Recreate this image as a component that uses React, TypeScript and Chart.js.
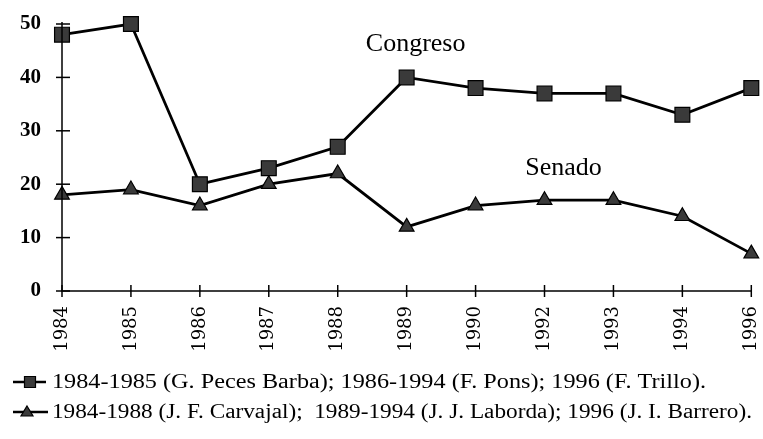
import React, { useEffect, useRef } from "react";
import { Chart, registerables } from "chart.js";

Chart.register(...registerables);

const years = ["1984", "1985", "1986", "1987", "1988", "1989", "1990", "1992", "1993", "1994", "1996"];
const congreso = [48, 50, 20, 23, 27, 40, 38, 37, 37, 33, 38];
const senado = [18, 19, 16, 20, 22, 12, 16, 17, 17, 14, 7];
const yTicks = [0, 10, 20, 30, 40, 50];
const seriesNames = ["Congreso", "Senado"];
const legendTexts = [
  "1984-1985 (G. Peces Barba); 1986-1994 (F. Pons); 1996 (F. Trillo).",
  "1984-1988 (J. F. Carvajal);  1989-1994 (J. J. Laborda); 1996 (J. I. Barrero).",
];

const SERIF = '"Liberation Serif", "Times New Roman", serif';

const decorPlugin = {
  id: "decor",
  afterDraw(chart: any) {
    const ctx = chart.ctx as CanvasRenderingContext2D;
    const xs = chart.scales.x;
    const ys = chart.scales.y;
    const ax = chart.chartArea.left;
    const ay = chart.chartArea.bottom;
    ctx.save();
    ctx.strokeStyle = "#000";
    ctx.lineWidth = 1.5;
    // axis lines
    ctx.beginPath();
    ctx.moveTo(ax, ys.getPixelForValue(50) - 2);
    ctx.lineTo(ax, ay);
    ctx.lineTo(xs.getPixelForValue(years.length - 1), ay);
    ctx.stroke();
    // y tick marks crossing
    yTicks.forEach((v) => {
      const y = ys.getPixelForValue(v);
      ctx.beginPath();
      ctx.moveTo(ax - 6, y);
      ctx.lineTo(ax + 8, y);
      ctx.stroke();
    });
    // x tick marks crossing
    years.forEach((_, i) => {
      const x = xs.getPixelForValue(i);
      ctx.beginPath();
      ctx.moveTo(x, ay - 6);
      ctx.lineTo(x, ay + 6);
      ctx.stroke();
    });
    // series annotations
    ctx.fillStyle = "#000";
    ctx.font = `26px ${SERIF}`;
    ctx.textAlign = "center";
    ctx.textBaseline = "alphabetic";
    ctx.fillText(seriesNames[0], xs.getPixelForValue(5) + 9, ys.getPixelForValue(45));
    ctx.fillText(seriesNames[1], xs.getPixelForValue(7) + 19, ys.getPixelForValue(21.7));

    // legend
    const rows = [
      { y: 382, style: "rect", text: legendTexts[0], x1: 13, x2: 46, mx: 30, target: 654 },
      { y: 412, style: "triangle", text: legendTexts[1], x1: 13, x2: 48, mx: 27, target: 700 },
    ];
    rows.forEach((r) => {
      ctx.strokeStyle = "#000";
      ctx.lineWidth = 2.5;
      ctx.beginPath();
      ctx.moveTo(r.x1, r.y);
      ctx.lineTo(r.x2, r.y);
      ctx.stroke();
      ctx.fillStyle = "#3a3a3a";
      ctx.lineWidth = 1.2;
      if (r.style === "rect") {
        ctx.beginPath();
        ctx.rect(r.mx - 5.5, r.y - 5.5, 11, 11);
        ctx.fill();
        ctx.stroke();
      } else {
        ctx.beginPath();
        ctx.moveTo(r.mx, r.y - 6);
        ctx.lineTo(r.mx + 6, r.y + 4);
        ctx.lineTo(r.mx - 6, r.y + 4);
        ctx.closePath();
        ctx.fill();
        ctx.stroke();
      }
      ctx.fillStyle = "#000";
      ctx.font = `20px ${SERIF}`;
      ctx.textAlign = "left";
      ctx.textBaseline = "middle";
      const w = ctx.measureText(r.text).width;
      const sx = r.target / w;
      ctx.save();
      ctx.translate(52, r.y + 1);
      ctx.scale(sx, 1);
      ctx.fillText(r.text, 0, 0);
      ctx.restore();
    });
    ctx.restore();
  },
};

export default function App() {
  const ref = useRef<HTMLCanvasElement | null>(null);
  useEffect(() => {
    document.body.style.margin = "0";
    const canvas = ref.current;
    if (!canvas) return;
    const chart = new Chart(canvas, {
      type: "line",
      data: {
        labels: years,
        datasets: [
          {
            label: seriesNames[0],
            data: congreso,
            borderColor: "#000",
            borderWidth: 2.8,
            pointStyle: "rect",
            pointRadius: 10.5,
            pointBackgroundColor: "#3a3a3a",
            pointBorderColor: "#000",
            pointBorderWidth: 1.2,
            tension: 0,
            clip: false as any,
          },
          {
            label: seriesNames[1],
            data: senado,
            borderColor: "#000",
            borderWidth: 2.8,
            pointStyle: "triangle",
            pointRadius: 8.5,
            pointBackgroundColor: "#3a3a3a",
            pointBorderColor: "#000",
            pointBorderWidth: 1.2,
            tension: 0,
            clip: false as any,
          },
        ],
      },
      options: {
        animation: false,
        responsive: true,
        maintainAspectRatio: false,
        layout: { padding: { top: 24, right: 11, left: 0, bottom: 0 } },
        plugins: { legend: { display: false }, tooltip: { enabled: false } },
        scales: {
          x: {
            offset: false,
            grid: { display: false },
            border: { display: false },
            ticks: {
              color: "#000",
              font: { family: '"DejaVu Serif", serif', size: 18 },
              minRotation: 90,
              maxRotation: 90,
              padding: 7,
              autoSkip: false,
            },
            afterFit: (s: any) => {
              s.height = 148;
              s.paddingLeft = 0;
              s.paddingRight = 0;
            },
          },
          y: {
            min: 0,
            max: 50,
            grid: { display: false },
            border: { display: false },
            ticks: {
              stepSize: 10,
              color: "#000",
              font: { family: SERIF, size: 21, weight: "bold" },
              padding: 13,
            },
            afterFit: (s: any) => {
              s.width = 62;
              s.paddingTop = 0;
              s.paddingBottom = 0;
            },
          },
        },
      },
      plugins: [decorPlugin],
    });
    return () => chart.destroy();
  }, []);
  return (
    <div style={{ position: "fixed", left: 0, top: 0, width: 763, height: 439, background: "#fff" }}>
      <canvas ref={ref} />
    </div>
  );
}
